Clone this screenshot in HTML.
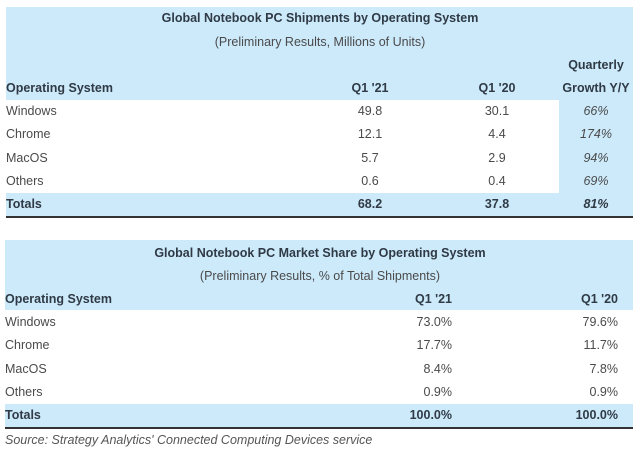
<!DOCTYPE html>
<html><head><meta charset="utf-8"><style>
body{margin:0;width:640px;height:459px;background:#fff;font-family:"Liberation Sans",sans-serif;position:relative;overflow:hidden}
.b{position:absolute;background:#cdeafb}
.t{position:absolute;font-size:12.5px;color:#4a4a4a;white-space:nowrap;line-height:16px}
.h{font-weight:bold;color:#2f3a45}
.c{transform:translateX(-50%)}
.r{transform:translateX(-100%)}
.i{font-style:italic}
.ln{position:absolute;height:1.5px;background:#333}
</style></head><body>
<div>
<div class="b" style="left:6px;top:7px;width:627px;height:93px"></div>
<div class="b" style="left:559px;top:100px;width:74px;height:93px"></div>
<div class="b" style="left:6px;top:193px;width:627px;height:23px"></div>
<div class="ln" style="left:6px;top:216px;width:627px"></div>
<div class="t h c" style="left:320px;top:10px">Global Notebook PC Shipments by Operating System</div>
<div class="t c" style="left:320px;top:34px">(Preliminary Results, Millions of Units)</div>
<div class="t h c" style="left:596px;top:57px">Quarterly</div>
<div class="t h" style="left:6px;top:80px">Operating System</div>
<div class="t h c" style="left:370px;top:80px">Q1 '21</div>
<div class="t h c" style="left:497px;top:80px">Q1 '20</div>
<div class="t h c" style="left:596px;top:80px">Growth Y/Y</div>
<div id="t1"></div>
</div>
<div>
<div class="b" style="left:5px;top:240px;width:628px;height:70px"></div>
<div class="b" style="left:5px;top:404px;width:628px;height:23px"></div>
<div class="ln" style="left:5px;top:427px;width:628px"></div>
<div class="t h c" style="left:320px;top:245px">Global Notebook PC Market Share by Operating System</div>
<div class="t c" style="left:320px;top:268px">(Preliminary Results, % of Total Shipments)</div>
<div class="t h" style="left:5px;top:291px">Operating System</div>
<div class="t h r" style="left:452px;top:291px">Q1 '21</div>
<div class="t h r" style="left:618px;top:291px">Q1 '20</div>
<div id="t2"></div>
</div>
<div class="t i" style="left:5px;top:432px;color:#555">Source: Strategy Analytics' Connected Computing Devices service</div>
<script>
const osNames=["Windows","Chrome","MacOS","Others"];
const shipQ121=["49.8","12.1","5.7","0.6"];
const shipQ120=["30.1","4.4","2.9","0.4"];
const growth=["66%","174%","94%","69%"];
const shipTotals=["68.2","37.8","81%"];
const shareQ121=["73.0%","17.7%","8.4%","0.9%"];
const shareQ120=["79.6%","11.7%","7.8%","0.9%"];
const shareTotals=["100.0%","100.0%"];
function cell(p,txt,cls,x,y,name){const d=document.createElement('div');d.className='t '+cls;d.style.left=x+'px';d.style.top=y+'px';d.textContent=txt;


p.appendChild(d);}
const t1=document.getElementById('t1'),t2=document.getElementById('t2');
osNames.forEach((n,i)=>{const y=103+i*23.3;
cell(t1,n,'',6,y,'os-'+n.toLowerCase());
cell(t1,shipQ121[i],'c',370,y,'ship-q121-'+n.toLowerCase());
cell(t1,shipQ120[i],'c',497,y,'ship-q120-'+n.toLowerCase());
cell(t1,growth[i],'c i',596,y,'growth-'+n.toLowerCase());
const y2=314+i*23.3;
cell(t2,n,'',5,y2,'share-os-'+n.toLowerCase());
cell(t2,shareQ121[i],'r',452,y2,'share-q121-'+n.toLowerCase());
cell(t2,shareQ120[i],'r',618,y2,'share-q120-'+n.toLowerCase());});
cell(t1,'Totals','h',6,196,'totals-label');
cell(t1,shipTotals[0],'h c',370,196,'ship-q121-total');
cell(t1,shipTotals[1],'h c',497,196,'ship-q120-total');
cell(t1,shipTotals[2],'h c i',596,196,'growth-total');
cell(t2,'Totals','h',5,407,'share-totals-label');
cell(t2,shareTotals[0],'h r',452,407,'share-q121-total');
cell(t2,shareTotals[1],'h r',618,407,'share-q120-total');
</script>
</body></html>
